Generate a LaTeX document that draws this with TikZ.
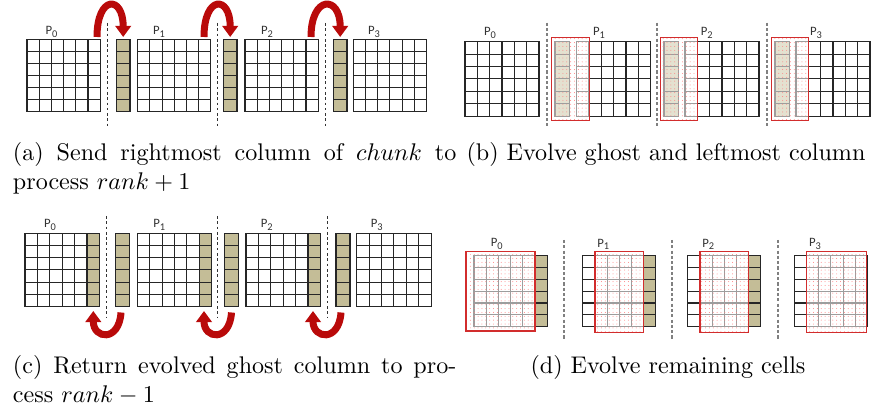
\documentclass[tikz,border=0pt]{standalone}
\usepackage{fontspec}
\newfontfamily\lblfont{Carlito}
\usetikzlibrary{arrows.meta,patterns.meta}
\definecolor{ghosttan}{RGB}{196,189,151}
\definecolor{boxred}{RGB}{210,45,45}
\definecolor{arrowred}{RGB}{185,10,10}
\newcommand{\pp}[1]{P\raisebox{-0.45ex}{\fontsize{4.3}{5}\selectfont #1}}

\begin{document}
\begin{tikzpicture}[x=0.415pt,y=-0.415pt,
    cell/.style={draw=black!85,line width=0.45pt},
    ghost/.style={cell,fill=ghosttan},
    split/.style={black!80,line width=0.4pt,dash pattern=on 1.1pt off 1.1pt},
    splitgray/.style={black!50,line width=0.8pt,dash pattern=on 1.3pt off 0.9pt},
    wash/.style={fill=white,fill opacity=0.55},
    reddots/.style={pattern={Dots[distance=1.6pt,radius=0.2pt]},pattern color=red!50},
    evolved/.style={draw=boxred,line width=0.5pt},
    plabel/.style={font=\lblfont\fontsize{5.3}{6}\selectfont,text=black!80,inner sep=0pt},
    sendarrow/.style={arrowred,line width=2.9pt,-{Triangle[width=6.4pt,length=4.6pt]}}]
    \useasboundingbox (0,0) rectangle (871,405);

    % (a) 发送最右列
    \foreach \gx in {27,137.7,245,353.3}
      \foreach \c in {0,...,5} \foreach \r in {0,...,5}
        \draw[cell] (\gx+\c*12.2,39.5+\r*12) rectangle ++(12.2,12);
    \foreach \gx in {116.3,223.3,333.3}
      \foreach \r in {0,...,5}
        \draw[ghost] (\gx,39.5+\r*12) rectangle ++(13.7,12);
    \foreach \sx in {107.3,217.3,325.7}
      \draw[split] (\sx,23) -- (\sx,126);
    \foreach \lx [count=\i from 0] in {51.5,159,267,374}
      \node[plabel] (a-p\i) at (\lx,31.7) {\pp{\i}};
    \coordinate (as1) at (97,37);    \coordinate (ag1) at (123.2,37);
    \coordinate (as2) at (204,37);   \coordinate (ag2) at (230.2,37);
    \coordinate (as3) at (311,37);   \coordinate (ag3) at (340.2,37);
    \foreach \k in {1,2,3}
      \draw[sendarrow] (as\k) .. controls +(0,-42) and +(0,-42) .. (ag\k);
    \node[anchor=base west,inner sep=0pt] (capa) at (12.5,160.7)
      {\parbox[t]{184pt}{(a) Send rightmost column of $chunk$ to\linebreak process $rank+1$}};

    % (b) 演化 ghost 与最左列
    \foreach \gx in {465,576.7,685,796}
      \foreach \c in {0,...,5} \foreach \r in {0,...,5}
        \draw[cell] (\gx+\c*12.33,41.7+\r*12.4) rectangle ++(12.33,12.4);
    \foreach \gx in {555,664,775}
      \foreach \r in {0,...,5}
        \draw[ghost] (\gx,41.7+\r*12.4) rectangle ++(14.5,12.4);
    \foreach \gx/\bx in {555/576.7,664/685,775/796} {
      \fill[wash] (\gx-3.5,37.3) rectangle (\bx+12.8,120.7);
      \fill[reddots] (\gx-3.5,37.3) rectangle (\bx+12.8,120.7);
      \draw[evolved] (\gx-3.5,37.3) rectangle (\bx+12.8,120.7);
    }
    \foreach \sx in {546.7,657.3,766.7}
      \draw[splitgray] (\sx,22.7) -- (\sx,126);
    \foreach \lx [count=\i from 0] in {490,599,706.7,816}
      \node[plabel] (b-p\i) at (\lx,33) {\pp{\i}};
    \node[anchor=base,inner sep=0pt] (capb) at (666,160.7)
      {(b) Evolve ghost and leftmost column};

    % (c) 返回 ghost 列
    \foreach \gx in {25,137.3,246,356.7}
      \foreach \c in {0,...,5} \foreach \r in {0,...,5}
        \draw[cell] (\gx+\c*12.4,233.3+\r*12.2) rectangle ++(12.4,12.2);
    \foreach \gx in {25,137.3,246}
      \foreach \r in {0,...,5}
        \draw[ghost] (\gx+5*12.4,233.3+\r*12.2) rectangle ++(12.4,12.2);
    \foreach \gx in {115.7,224.3,336}
      \foreach \r in {0,...,5}
        \draw[ghost] (\gx,233.3+\r*12.2) rectangle ++(14,12.2);
    \foreach \sx in {106.7,217.7,327.7}
      \draw[split] (\sx,216) -- (\sx,318.3);
    \foreach \lx [count=\i from 0] in {50,159.3,266.7,376.7}
      \node[plabel] (c-p\i) at (\lx,225) {\pp{\i}};
    \coordinate (cs1) at (121,312.5);   \coordinate (cg1) at (93.3,311);
    \coordinate (cs2) at (231.5,312.5); \coordinate (cg2) at (204,311);
    \coordinate (cs3) at (341,312.5);   \coordinate (cg3) at (313,311);
    \foreach \k in {1,2,3}
      \draw[sendarrow] (cs\k) .. controls +(-2,30) and +(0,28) .. (cg\k);
    \node[anchor=base west,inner sep=0pt] (capc) at (12.5,373.3)
      {\parbox[t]{184pt}{(c) Return evolved ghost column to pro-\linebreak cess $rank-1$}};

    % (d) 演化其余单元
    \foreach \gx in {474,582.7,687.7,794.3}
      \foreach \c in {0,...,5} \foreach \r in {0,...,5}
        \draw[cell] (\gx+\c*12.2,255.7+\r*11.83) rectangle ++(12.2,11.83);
    \foreach \gx in {474,582.7,687.7}
      \foreach \r in {0,...,5}
        \draw[ghost] (\gx+5*12.2,255.7+\r*11.83) rectangle ++(12.2,11.83);
    \foreach \lft/\rgt/\tp/\bt in {466/535/251.7/331,594.9/643.7/251.7/332.7,
                                   699.9/748.7/251.7/332.7,806.5/866.5/251.7/332.7} {
      \fill[wash] (\lft,\tp) rectangle (\rgt,\bt);
      \fill[reddots] (\lft,\tp) rectangle (\rgt,\bt);
      \draw[evolved] (\lft,\tp) rectangle (\rgt,\bt);
    }
    \foreach \sx in {564,671.7,778.3}
      \draw[splitgray] (\sx,240) -- (\sx,340);
    \foreach \lx [count=\i from 0] in {496.7,603.3,708.3,815}
      \node[plabel] (d-p\i) at (\lx,244.3) {\pp{\i}};
    \node[anchor=base,inner sep=0pt] (capd) at (668,373.3)
      {(d) Evolve remaining cells};
\end{tikzpicture}
\end{document}
